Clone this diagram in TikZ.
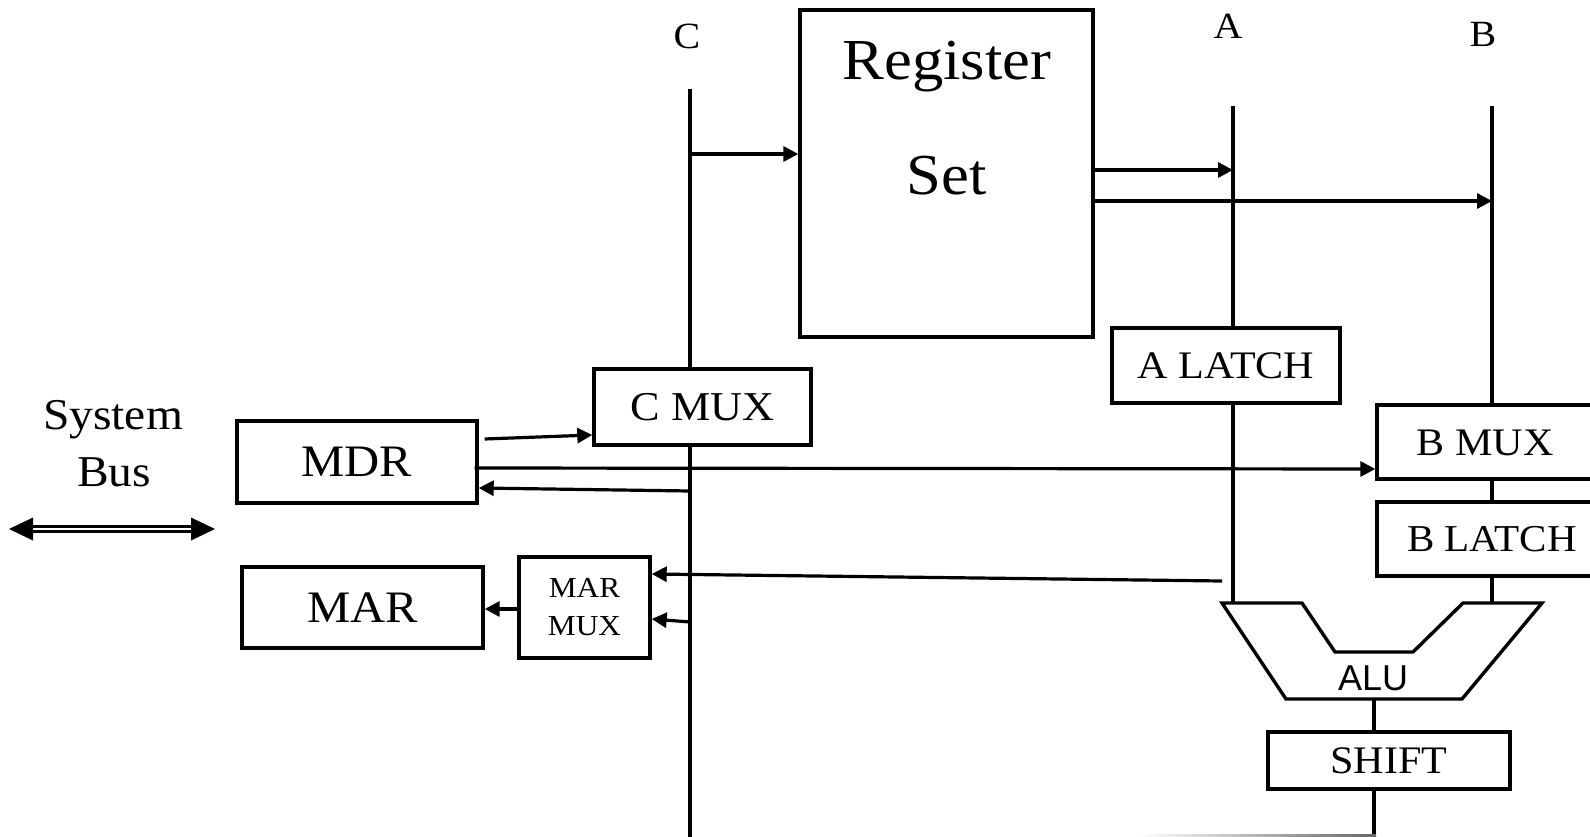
\documentclass[tikz,border=0pt]{standalone}
\usepackage{fontspec}
\setmainfont{Liberation Serif}[FakeStretch=1.08]
\newfontfamily\alufont{Liberation Sans}
\usetikzlibrary{arrows.meta}
\newcommand{\setsz}[1]{\fontsize{#1}{#1}\selectfont}

\begin{document}
\begin{tikzpicture}[x=1pt,y=-1pt,
block/.style={draw,rectangle,line width=3.4pt,inner sep=0pt},
wire/.style={line width=3.4pt},
arr/.style={line width=3.2pt,-{Triangle[length=15pt,width=15pt]}},
lbl/.style={anchor=base,inner sep=0pt}]

\clip (0,0) rectangle (1590,837);

% register set and the three buses
\draw (946.5,173.5) node[block,minimum width=293,minimum height=327] (REG) {};
\draw (947,80) node[lbl] (REGa) {\setsz{58}Register};
\draw (947,195) node[lbl] (REGb) {\setsz{58}Set};
\draw (687,49) node[lbl] (labC) {\setsz{37}C};
\draw (1228,39) node[lbl] (labA) {\setsz{37}A};
\draw (1483,47) node[lbl] (labB) {\setsz{37}B};
\coordinate (Ctop) at (690,89);
\coordinate (Cbot) at (690,845);
\coordinate (Atop) at (1233,106);
\coordinate (Btop) at (1492,106);

% boxes
\draw (702.5,407) node[block,minimum width=217,minimum height=76] (CMUX) {\setsz{41}C MUX};
\draw (357,462) node[block,minimum width=240,minimum height=82] (MDR) {\setsz{45}MDR};
\draw (362.5,607.5) node[block,minimum width=241,minimum height=81] (MAR) {\setsz{45}MAR};
\draw (584.5,607.5) node[block,minimum width=131,minimum height=101,align=center,font=\fontsize{29}{38}\selectfont] (MARMUX) {MAR\\MUX};
\draw (1226,365.5) node[block,minimum width=228,minimum height=75] (ALATCH) {\setsz{39}A LATCH};
\draw (1492,442) node[block,minimum width=230,minimum height=74] (BMUX) {};
\draw (1485,455) node[lbl] (BMUXt) {\setsz{39}B MUX};
\draw (1492,539) node[block,minimum width=230,minimum height=74] (BLATCH) {\setsz{38}B LATCH};
\draw (1389,760.5) node[block,minimum width=242,minimum height=57] (SHIFT) {\setsz{39}SHIFT};

% ALU
\coordinate (ALUa) at (1233,603);
\coordinate (ALUb) at (1492,603);
\coordinate (ALUout) at (1374,699);
\draw[line width=3.4pt] (1222,603) -- (1302,603) -- (1335,652) -- (1413,652) -- (1463,603) -- (1542,603) -- (1462,699) -- (1286,699) -- cycle;
\draw (1373,690) node[lbl] (ALU) {\alufont\setsz{36}ALU};

% system bus
\coordinate (SBl) at (9,529);
\coordinate (SBr) at (215,529);
\draw (113,429) node[lbl] (sys) {\setsz{44}System};
\draw (114,486) node[lbl] (bus) {\setsz{44}Bus};
\draw[line width=2.4pt,double=white,double distance=2.4pt] ([xshift=20]SBl) -- ([xshift=-20]SBr);
\fill (SBl) -- ++(24,-11.5) -- ++(0,23) -- cycle;
\fill (SBr) -- ++(-24,-11.5) -- ++(0,23) -- cycle;

% bus lines
\draw[wire] (Ctop) -- (Ctop |- CMUX.north);
\draw[wire] (Ctop |- CMUX.south) -- (Cbot);
\draw[wire] (Atop) -- (Atop |- ALATCH.north);
\draw[wire] (Atop |- ALATCH.south) -- (ALUa);
\draw[wire] (Btop) -- (BMUX.north);
\draw[wire] (BMUX.south) -- (BLATCH.north);
\draw[wire] (BLATCH.south) -- (ALUb);
\draw[wire] (ALUout) -- (ALUout |- SHIFT.north);
\draw[wire] (ALUout |- SHIFT.south) -- ++(0,50);
\shade[left color=white,right color=black!60] (1140,834) rectangle (1376,838);

% transfers
\draw[arr] (Ctop |- 0,154) -- (REG.west |- 0,154);
\draw[arr] (REG.east |- 0,170) ++(-3,0) -- (Atop |- 0,170);
\draw[arr] (REG.east |- 0,201) ++(-3,0) -- (Btop |- 0,201);
\draw[arr] (MDR.east |- 0,439) ++(6,0) -- (CMUX.west |- 0,435);
\draw[arr] (MDR.east |- 0,468) ++(-4,0) -- (BMUX.west |- 0,469);
\draw[arr] (Ctop |- 0,491) -- (MDR.east |- 0,488);
\draw[arr] (Atop |- 0,581) ++(-11,0) -- (MARMUX.east |- 0,574);
\draw[arr] (Ctop |- 0,622) -- (MARMUX.east |- 0,619);
\draw[arr] (MARMUX.west |- 0,609) -- (MAR.east |- 0,609);

\end{tikzpicture}
\end{document}
